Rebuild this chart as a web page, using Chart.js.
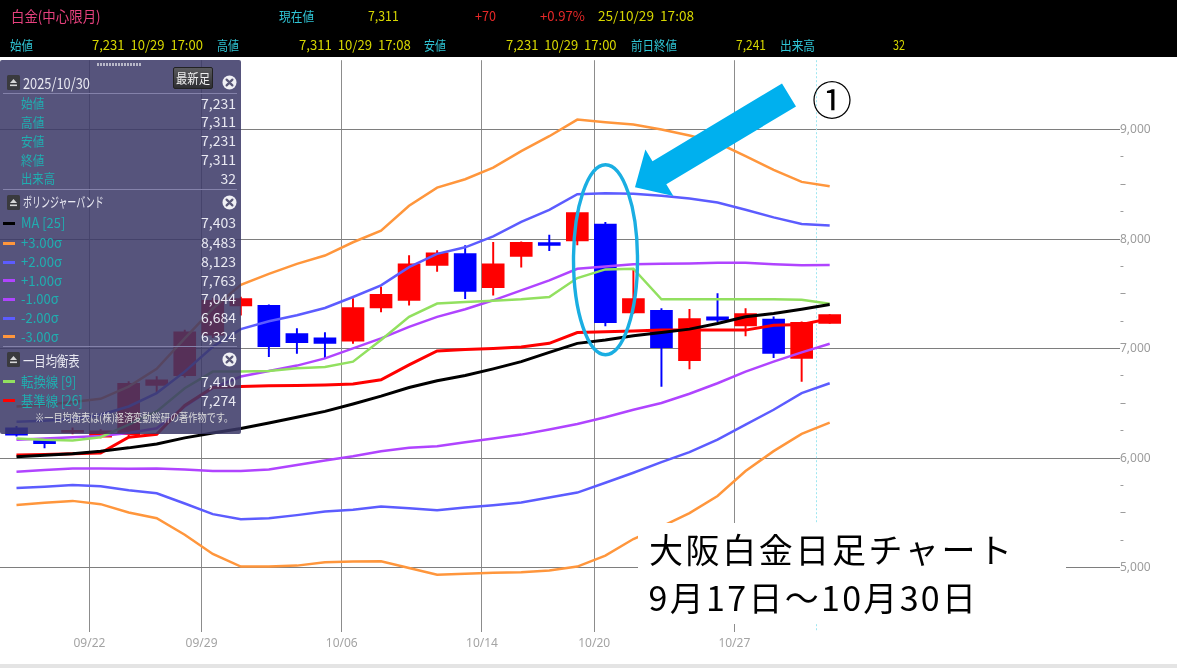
<!DOCTYPE html>
<html><head><meta charset="utf-8">
<script src="https://cdn.jsdelivr.net/npm/chart.js@4/dist/chart.umd.min.js"></script>
<style>
html,body{margin:0;padding:0;background:#fff;width:1177px;height:668px;overflow:hidden;font-family:"Noto Sans CJK JP","Noto Sans",sans-serif;}
.a{position:absolute;white-space:pre;line-height:1;}
#c{position:absolute;left:0;top:53px;}
#hdr{position:absolute;left:0;top:0;width:1177px;height:57px;background:#000;}
#panel{position:absolute;left:0;top:60px;width:241px;height:374px;background:rgba(58,56,103,0.86);border-radius:2px;}
#box{position:absolute;left:638px;top:523px;width:428px;height:101px;background:#fff;}
#foot{position:absolute;left:0;top:664px;width:1177px;height:4px;background:#e4e4e4;}
.sep{position:absolute;left:3px;width:234px;height:1px;background:#8482aa;}
.dash{position:absolute;left:3px;width:12px;height:3px;}
svg{position:absolute;overflow:visible;}
</style></head><body>
<canvas id="c" width="1177" height="609"></canvas>
<div id="box"></div>
<div id="hdr"></div>
<div id="panel"></div>
<div id="foot"></div>
<svg width="1177" height="668" style="left:0;top:0;pointer-events:none">
  <ellipse cx="605.5" cy="259.7" rx="32" ry="95" fill="none" stroke="#1aaee2" stroke-width="3.4"/>
  <polygon points="782,83.5 652.5,161.2 645.4,149.4 635,187.3 673.4,196 666.3,184.2 796,106.5" fill="#00b0ee"/>
</svg>
<script>
// ---- data ----
const dates = ['09/17','09/18','09/19','09/22','09/24','09/25','09/26','09/29','09/30','10/01','10/02','10/03','10/06','10/07','10/08','10/09','10/10','10/14','10/15','10/16','10/17','10/20','10/21','10/22','10/23','10/24','10/27','10/28','10/29','10/30'];
const openV  = [6276,6161,6235,6191,6215,6663,6754,7123,7390,7396,7138,7099,7069,7372,7441,7759,7868,7556,7841,7968,7983,8137,7326,7350,6890,7290,7208,7269,6911,7231];
const highV  = [6290,6170,6276,6262,6700,6745,7170,7460,7470,7400,7184,7147,7456,7562,7850,7895,7941,7971,7975,8037,8250,8152,7714,7365,7359,7502,7365,7290,7245,7311];
const lowV   = [6200,6094,6221,6185,6205,6594,6740,7100,7305,6927,6957,6917,7048,7335,7396,7704,7456,7487,7744,7895,7947,7208,7320,6654,6815,7244,7117,6917,6700,7231];
const closeV = [6209,6133,6255,6250,6684,6715,7154,7441,7456,7017,7054,7048,7375,7496,7774,7874,7523,7774,7971,7941,8243,7238,7456,7008,7275,7260,7320,6957,7241,7311];
const volumeLast = 32;
const ma25  = [6012,6027,6040,6064,6094,6130,6185,6230,6270,6321,6373,6427,6494,6566,6645,6706,6754,6815,6881,6966,7048,7078,7117,7147,7178,7229,7290,7320,7359,7403];
const up3   = [6472,6488,6512,6542,6654,6815,7093,7365,7583,7683,7774,7850,7971,8077,8304,8470,8546,8652,8803,8939,9091,9067,9045,9000,8946,8879,8758,8631,8522,8483];
const up2   = [6333,6342,6357,6397,6472,6594,6790,7017,7178,7250,7305,7371,7471,7577,7744,7865,7925,8025,8158,8267,8410,8419,8413,8395,8370,8334,8267,8198,8137,8123];
const up1   = [6167,6179,6191,6203,6230,6273,6472,6639,6745,6796,6845,6911,7002,7093,7199,7290,7359,7441,7532,7623,7729,7750,7771,7774,7777,7783,7783,7771,7762,7763];
const dn1   = [5876,5891,5906,5906,5903,5906,5897,5882,5882,5897,5937,5979,6018,6064,6094,6109,6146,6179,6215,6261,6312,6373,6442,6503,6588,6684,6790,6881,6966,7044];
const dn2   = [5728,5740,5755,5743,5707,5679,5586,5489,5443,5452,5480,5513,5528,5558,5543,5525,5549,5570,5595,5640,5686,5776,5867,5964,6055,6170,6306,6442,6594,6684];
const dn3   = [5573,5592,5610,5580,5504,5452,5301,5125,5010,5010,5019,5049,5056,5059,4998,4935,4944,4953,4959,4974,5010,5110,5262,5374,5498,5655,5882,6064,6221,6324];
const tenkan= [6179,6167,6161,6191,6306,6427,6639,6790,6790,6796,6821,6833,6881,7078,7290,7411,7426,7438,7450,7471,7644,7723,7729,7450,7450,7450,7450,7450,7447,7410];
const kijun = [6028,6034,6040,6046,6191,6218,6481,6645,6654,6660,6663,6669,6678,6715,6851,6978,6993,7002,7014,7048,7147,7153,7160,7169,7169,7169,7169,7214,7220,7274];
const tickDates = ['09/22','09/29','10/06','10/14','10/20','10/27'];
const yTickValues = [5000,5250,5500,5750,6000,6250,6500,6750,7000,7250,7500,7750,8000,8250,8500,8750,9000];
const cursorIndex = 28.5;

// ---- chart ----
Chart.defaults.font.family = '"Noto Sans", sans-serif';
const fmt = v => v.toLocaleString('en-US');
const candleColor = dates.map((d,i) => closeV[i] >= openV[i] ? '#ff0000' : '#0000ff');
const pts = arr => arr.map((v,i) => ({x:i, y:v}));
function lineDs(arr, color, w) {
  return {type:'line', data:pts(arr), borderColor:color, borderWidth:w, pointRadius:0, tension:0, fill:false, order:0};
}
const cursorPlugin = {
  id:'cursor',
  beforeDatasetsDraw(chart){
    const {ctx, chartArea, scales:{x}} = chart;
    const px = Math.round(x.getPixelForValue(cursorIndex)) + 0.5;
    ctx.save(); ctx.strokeStyle = '#9ee6f0'; ctx.lineWidth = 1; ctx.setLineDash([2,2]);
    ctx.beginPath(); ctx.moveTo(px, chartArea.top); ctx.lineTo(px, chartArea.bottom); ctx.stroke(); ctx.restore();
  }
};
new Chart(document.getElementById('c'), {
  type:'bar',
  data:{datasets:[
    lineDs(ma25,'#000000',3),
    lineDs(kijun,'#ff0000',3),
    lineDs(tenkan,'#92e060',2.5),
    lineDs(up1,'#b044ff',2.5),
    lineDs(dn1,'#b044ff',2.5),
    lineDs(up2,'#5c5cff',2.5),
    lineDs(dn2,'#5c5cff',2.5),
    lineDs(up3,'#ff963c',2.5),
    lineDs(dn3,'#ff963c',2.5),
    {type:'bar', data:dates.map((d,i)=>({x:i, y:[openV[i], closeV[i]]})), backgroundColor:candleColor, barThickness:22, grouped:false, order:1},
    {type:'bar', data:dates.map((d,i)=>({x:i, y:[lowV[i], highV[i]]})), backgroundColor:candleColor, barThickness:1.3, grouped:false, order:2}
  ]},
  options:{
    responsive:false, animation:false, devicePixelRatio:1,
    layout:{padding:0, autoPadding:false},
    plugins:{legend:{display:false}, tooltip:{enabled:false}},
    scales:{
      x:{type:'linear', min:-0.588, max:39.21, offset:false,
         grid:{color:'#8c8c8c', lineWidth:1, drawTicks:false, offset:false},
         border:{display:false},
         afterBuildTicks: s => { s.ticks = tickDates.map(d => ({value: dates.indexOf(d) - 0.4})); },
         afterFit: s => { s.height = 30; },
         ticks:{autoSkip:false, maxRotation:0, padding:4, color:'#a4a4a4', font:{size:12},
                callback:(v, idx) => tickDates[idx]}},
      y:{type:'linear', position:'right', min:4413, max:9633,
         grid:{color: c => (c.tick && c.tick.value % 1000 === 0) ? '#7e7e7e' : 'rgba(0,0,0,0)', lineWidth:1, drawTicks:true, tickLength:4},
         border:{display:false},
         afterBuildTicks: s => { s.ticks = yTickValues.map(v => ({value:v})); },
         afterFit: s => { s.width = 61; },
         ticks:{padding:0, color:'#9c9c9c', font:{size:12},
                callback: v => v % 1000 === 0 ? fmt(v) : (v % 500 === 0 ? '–' : '-')}}
    }
  },
  plugins:[cursorPlugin]
});

// ---- text overlays ----
function txt(parent, text, x, yc, o) {
  const el = document.createElement('div');
  el.className = 'a';
  el.textContent = text;
  el.style.fontSize = o.size + 'px';
  el.style.color = o.color;
  if (o.family) el.style.fontFamily = o.family;
  parent.appendChild(el);
  const nat = el.getBoundingClientRect().width;
  let sx = 1, w = nat;
  if (o.w) {
    if (o.ls) {
      const n = [...text].length;
      el.style.letterSpacing = ((o.w - nat) / (n - 1)) + 'px';
    } else { sx = o.w / nat; }
    w = o.w;
  }
  const pr = parent.getBoundingClientRect();
  const left = (o.align === 'right' ? x - w : x) - pr.left;
  el.style.left = left + 'px';
  el.style.top = (yc - 0.56 * o.size - pr.top) + 'px';
  el.style.transformOrigin = 'left center';
  el.style.transform = 'scaleX(' + sx + ')';
  return el;
}
const body = document.body;
const panel = document.getElementById('panel');
const CY = '#2fc4d4', YE = '#d6d600', RD = '#e62828', PK = '#e8417e';
const last = dates.length - 1;
// header row 1
txt(body, '白金(中心限月)', 10.7, 16.7, {size:15, color:PK, w:89.6});
txt(body, '現在値', 279.4, 16.7, {size:13, color:CY, w:35.2});
txt(body, fmt(closeV[last]), 368, 16.7, {size:13, color:YE, w:30.8});
txt(body, '+70', 474.5, 16.7, {size:13, color:RD, w:21});
txt(body, '+0.97%', 540.4, 16.7, {size:13, color:RD, w:45});
txt(body, '25/10/29  17:08', 598, 16.7, {size:13, color:YE, w:96});
// header row 2
txt(body, '始値', 9.6, 45.5, {size:13, color:CY, w:23});
txt(body, fmt(openV[last]) + '  10/29  17:00', 91.8, 45.5, {size:13, color:YE, w:111});
txt(body, '高値', 217.4, 45.5, {size:13, color:CY, w:22});
txt(body, fmt(highV[last]) + '  10/29  17:08', 298.5, 45.5, {size:13, color:YE, w:111.8});
txt(body, '安値', 424, 45.5, {size:13, color:CY, w:22});
txt(body, fmt(lowV[last]) + '  10/29  17:00', 506, 45.5, {size:13, color:YE, w:110.6});
txt(body, '前日終値', 631.3, 45.5, {size:13, color:CY, w:46});
txt(body, fmt(closeV[last-1]), 736.2, 45.5, {size:13, color:YE, w:30});
txt(body, '出来高', 780.3, 45.5, {size:13, color:CY, w:35});
txt(body, String(volumeLast), 892.6, 45.5, {size:13, color:YE, w:12});

// panel
const TL = '#20aeb0', WH = '#e9e9f2';
function addEl(html){ const d=document.createElement('div'); d.innerHTML=html; const e=d.firstElementChild; panel.appendChild(e); return e; }
addEl('<div style="position:absolute;left:97px;top:3px;width:45px;height:3px;background:repeating-linear-gradient(90deg,#b8b8c8 0 2px,transparent 2px 3px)"></div>');
function eject(yc){ addEl('<svg style="left:7px;top:'+(yc-60-7.5)+'px" width="13" height="15"><rect width="13" height="15" rx="1.5" fill="#3a3a3e"/><path d="M3 8 L6.5 4 L10 8 Z" fill="#d8d8d8"/><rect x="3" y="9.5" width="7" height="1.6" fill="#d8d8d8"/></svg>'); }
function closeIc(yc){ addEl('<svg style="left:222px;top:'+(yc-60-7.5)+'px" width="15" height="15"><circle cx="7.5" cy="7.5" r="7" fill="#f0f0f4"/><path d="M4.6 4.6 L10.4 10.4 M10.4 4.6 L4.6 10.4" stroke="#5a5878" stroke-width="2.2" stroke-linecap="round"/></svg>'); }
function sep(y){ addEl('<div class="sep" style="top:'+(y-60)+'px"></div>'); }
function dash(yc,color){ addEl('<div class="dash" style="top:'+(yc-60-1.5)+'px;background:'+color+'"></div>'); }
eject(82.5); closeIc(82); eject(202); closeIc(202); eject(359.5); closeIc(359);
sep(93); sep(189); sep(346);
addEl('<div style="position:absolute;left:173px;top:7px;width:40px;height:22px;background:linear-gradient(#5a5a5e,#2e2e32);border:1px solid #222;border-radius:2px;box-sizing:border-box"></div>');
txt(panel, '2025/10/30', 23, 83, {size:15, color:WH, w:67});
txt(panel, '最新足', 176, 78.5, {size:13, color:'#f0f0f0', w:34});
const ohlcLabels = ['始値','高値','安値','終値','出来高'];
const ohlcVals = [openV[last], highV[last], lowV[last], closeV[last], volumeLast];
const ohlcY = [103.5,122.3,141,160,178.5];
ohlcLabels.forEach((l,k)=>{
  txt(panel, l, 20.7, ohlcY[k], {size:13, color:TL, w: l.length===3?34:23.3});
  txt(panel, fmt(ohlcVals[k]), 236, ohlcY[k], {size:14, color:WH, align:'right'});
});
txt(panel, 'ボリンジャーバンド', 22.7, 202, {size:14, color:WH, w:80.6});
const bbRows = [
  ['MA [25]', ma25, '#000000', 223, 44.3],
  ['+3.00σ', up3, '#ff963c', 243.3, 41],
  ['+2.00σ', up2, '#5c5cff', 262.3, 41],
  ['+1.00σ', up1, '#b044ff', 280.7, 41],
  ['-1.00σ', dn1, '#b044ff', 299.3, 37.7],
  ['-2.00σ', dn2, '#5c5cff', 318.3, 37.7],
  ['-3.00σ', dn3, '#ff963c', 336.7, 37.7]
];
bbRows.forEach(r=>{
  dash(r[3], r[2]);
  txt(panel, r[0], 20.7, r[3], {size:14, color:TL, w:r[4]});
  txt(panel, fmt(r[1][last]), 236, r[3], {size:14, color:WH, align:'right'});
});
txt(panel, '一目均衡表', 23.3, 360.7, {size:14, color:WH, w:56.7});
[['転換線 [9]', tenkan, '#92e060', 381.7, 55.3], ['基準線 [26]', kijun, '#ff0000', 400.7, 61.7]].forEach(r=>{
  dash(r[3], r[2]);
  txt(panel, r[0], 20.7, r[3], {size:14, color:TL, w:r[4]});
  txt(panel, fmt(r[1][last]), 236, r[3], {size:14, color:WH, align:'right'});
});
txt(panel, '※一目均衡表は(株)経済変動総研の著作物です。', 35, 418.3, {size:11, color:'#dcdcdc', w:198.3});

// annotations
txt(body, '①', 812, 100, {size:40, color:'#000'});
txt(body, '大阪白金日足チャート', 649, 551.5, {size:34, color:'#000', w:363, ls:true});
txt(body, '9月17日～10月30日', 648.6, 599.5, {size:34, color:'#000', w:327.4, ls:true});
</script>
</body></html>
